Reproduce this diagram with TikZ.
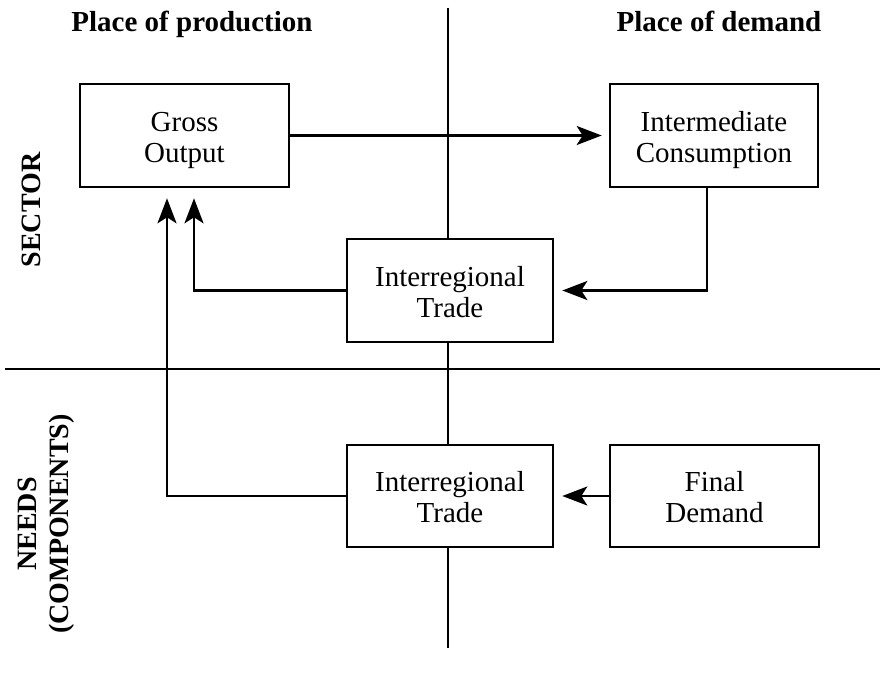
\documentclass[tikz,border=0pt]{standalone}
\usepackage{fontspec}
\setmainfont{Liberation Serif}
\usetikzlibrary{arrows.meta,calc}
\newcommand{\twolines}[2]{\raisebox{-5pt}[\height][\depth]{\begin{tabular}{@{}c@{}}#1\\#2\end{tabular}}}
\tikzset{
  box/.style={draw, line width=2.6pt, fill=white, align=center, inner sep=0pt,
    font=\fontsize{29}{31}\selectfont},
  arr/.style={line width=2.4pt, -{Stealth[length=25pt,width=19pt,inset=6pt]}},
  axis/.style={line width=2.2pt},
  head/.style={font=\fontsize{29}{31}\selectfont\bfseries},
  side/.style={font=\fontsize{28}{32}\selectfont\bfseries, rotate=90, align=center}
}
\begin{document}
\begin{tikzpicture}[x=1pt,y=-1pt]
\useasboundingbox (0,0) rectangle (882,676);
% axes
\coordinate (vt) at (448,8);
\coordinate (vb) at (448,648);
\coordinate (hl) at (5,369);
\coordinate (hr) at (880,369);
\draw[axis] (vt) -- (vb);
\draw[axis] (hl) -- (hr);
% headings
\node[head, anchor=base] (hp) at (192,32) {Place of production};
\node[head, anchor=base] (hd) at (719,32) {Place of demand};
\node[side] (sec) at (31,210) {SECTOR};
\node[side] (need) at (46,524) {NEEDS\\(COMPONENTS)};
% boxes
\node[box, minimum width=209pt, minimum height=103pt] (go) at (184.5,135.5) {\twolines{Gross}{Output}};
\node[box, minimum width=208pt, minimum height=103pt] (ic) at (714,135.5) {\twolines{Intermediate}{Consumption}};
\node[box, minimum width=206pt, minimum height=103pt] (t1) at (450,290.5) {\twolines{Interregional}{Trade}};
\node[box, minimum width=206pt, minimum height=102pt] (t2) at (450,496) {\twolines{Interregional}{Trade}};
\node[box, minimum width=209pt, minimum height=102pt] (fd) at (714.5,496) {\twolines{Final}{Demand}};
% connectors
\draw[arr, shorten >=7pt] (go.east) -- (ic.west);
\draw[arr, shorten >=8pt] ($(ic.south)+(-7,0)$) |- (t1.east);
\draw[arr, shorten >=10pt] (t1.west) -| ($(go.south)+(9.5,0)$);
\draw[arr, shorten >=10pt] (t2.west) -| ($(go.south)+(-17.5,0)$);
\draw[arr, shorten >=8pt] (fd.west) -- (t2.east);
\end{tikzpicture}
\end{document}
